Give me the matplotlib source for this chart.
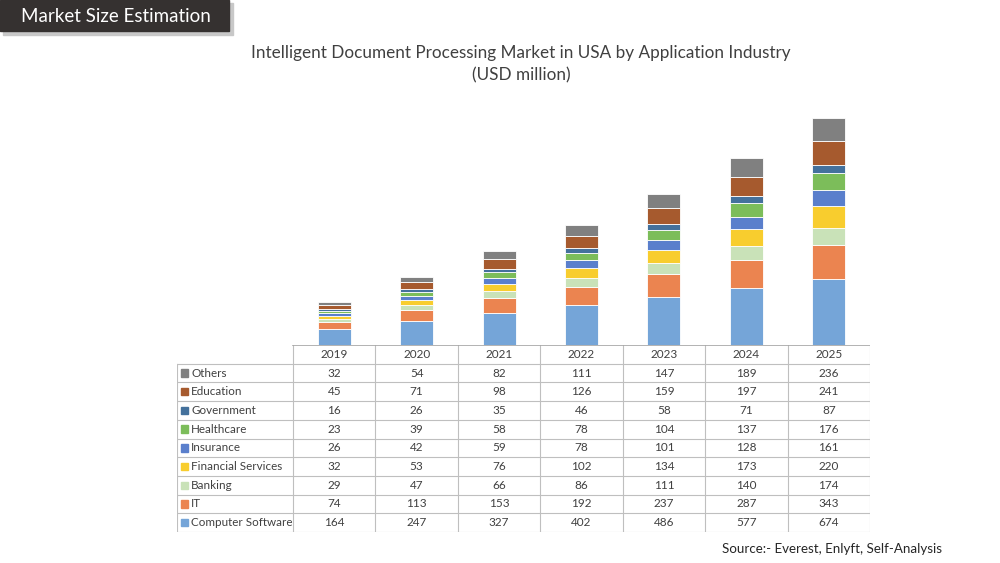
import numpy as np
import matplotlib.pyplot as plt
from matplotlib.patches import Rectangle

plt.rcParams['font.family'] = ['Lato', 'DejaVu Sans']

years = ['2019', '2020', '2021', '2022', '2023', '2024', '2025']
# bottom-to-top stacking order
segments = ['Computer Software', 'IT', 'Banking', 'Financial Services', 'Insurance',
            'Healthcare', 'Government', 'Education', 'Others']
computer_software = [164, 247, 327, 402, 486, 577, 674]
it = [74, 113, 153, 192, 237, 287, 343]
banking = [29, 47, 66, 86, 111, 140, 174]
financial_services = [32, 53, 76, 102, 134, 173, 220]
insurance = [26, 42, 59, 78, 101, 128, 161]
healthcare = [23, 39, 58, 78, 104, 137, 176]
government = [16, 26, 35, 46, 58, 71, 87]
education = [45, 71, 98, 126, 159, 197, 241]
others = [32, 54, 82, 111, 147, 189, 236]
values = [computer_software, it, banking, financial_services, insurance,
          healthcare, government, education, others]
colors = ['#75a5d8', '#eb8450', '#c9e2b8', '#f8cd2e', '#5a7fcc',
          '#7cbd5a', '#44719c', '#a65a2e', '#808080']

W, H = 1000, 563
fig = plt.figure(figsize=(10, 5.63), dpi=100)

def px_axes(left, top, right, bottom):
    # axes placed by pixel box on the 1000x563 canvas
    return fig.add_axes([left / W, 1 - bottom / H, (right - left) / W, (bottom - top) / H])

# header tag, title and source
tag = fig.add_axes([0, 0, 1, 1], zorder=0)
tag.set_xlim(0, W)
tag.set_ylim(H, 0)
tag.axis('off')
tag.add_patch(Rectangle((3, 3), 230, 32, color='#c8c8c8', zorder=1))
tag.add_patch(Rectangle((0, 0), 229, 31, color='#353130', zorder=2))
tag.text(116, 16, 'Market Size Estimation', color='white', fontsize=13.5,
         ha='center', va='center', zorder=3)
tag.text(521, 53, 'Intelligent Document Processing Market in USA by Application Industry',
         fontsize=12.3, ha='center', va='center', color='#404040')
tag.text(521, 75, '(USD million)', fontsize=12.3, ha='center', va='center', color='#404040')
tag.text(942, 549, 'Source:- Everest, Enlyft, Self-Analysis', fontsize=9.6,
         ha='right', va='center', color='#262626')

# stacked bars
ax = px_axes(293, 110, 870, 345)
x = np.arange(len(years))
bottom = np.zeros(len(years))
for name, vals, c in zip(segments, values, colors):
    ax.bar(x, vals, 0.4, bottom=bottom, color=c, edgecolor='white', linewidth=0.6, label=name)
    bottom += np.array(vals)
ax.set_xlim(-0.5, len(years) - 0.5)
ax.set_ylim(0, 2390)
ax.axis('off')

# data table
tb = px_axes(177, 345, 870, 532)
lab_w = 116 / 82.4
nrow = len(segments) + 1
tb.set_xlim(-lab_w, len(years))
tb.set_ylim(nrow, 0)
tb.axis('off')
line_c = '#bfbfbf'
for j, yr in enumerate(years):
    tb.text(j + 0.5, 0.5, yr, ha='center', va='center', fontsize=8.5, color='#404040')
for j in range(len(years) + 1):
    tb.plot([j, j], [0, nrow], color=line_c, lw=0.8)
tb.plot([-lab_w, -lab_w], [1, nrow], color=line_c, lw=0.8)
tb.plot([0, len(years)], [0, 0], color='#a6a6a6', lw=1.2)
for i in range(1, nrow + 1):
    tb.plot([-lab_w, len(years)], [i, i], color=line_c, lw=0.8)
rows = list(zip(segments, values, colors))[::-1]
for i, (name, vals, c) in enumerate(rows):
    yc = i + 1.5
    tb.add_patch(Rectangle((-lab_w + 0.05, yc - 0.2), 0.085, 0.4, color=c))
    tb.text(-lab_w + 0.17, yc, name, ha='left', va='center', fontsize=8.4, color='#404040')
    for j, v in enumerate(vals):
        tb.text(j + 0.5, yc, str(v), ha='center', va='center', fontsize=8.5, color='#404040')

fig.savefig('out.png', dpi=100)
